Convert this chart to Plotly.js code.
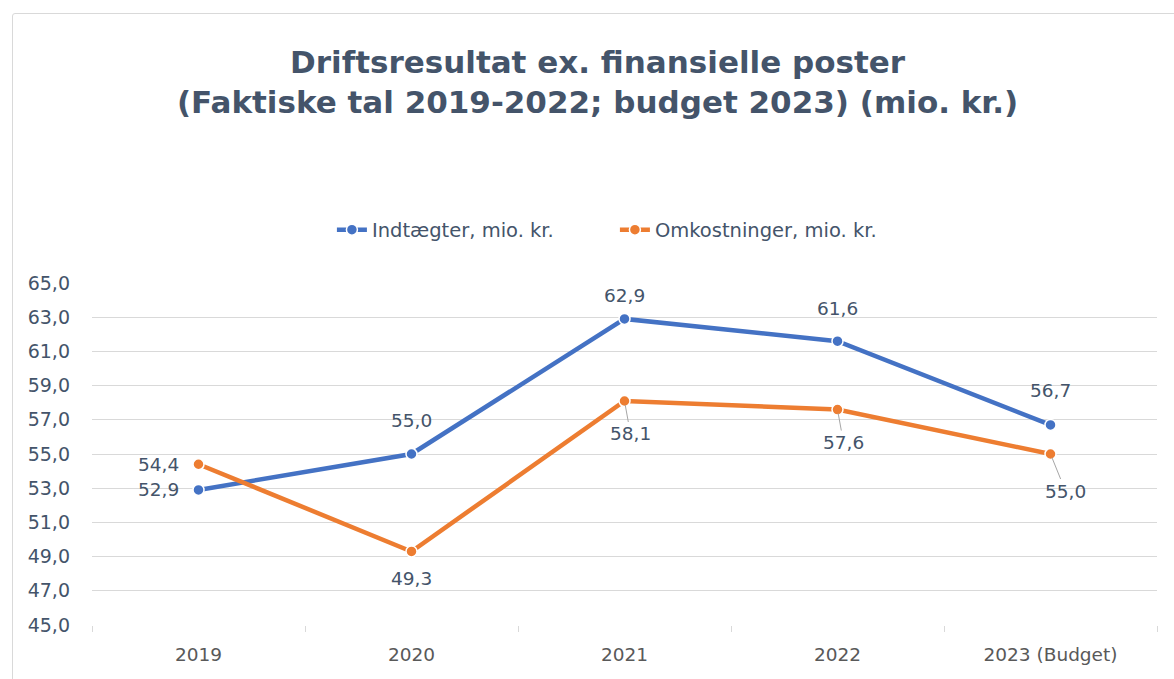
<!DOCTYPE html>
<html>
<head>
<meta charset="utf-8">
<script src="https://cdn.plot.ly/plotly-3.0.1.min.js"></script>
<style>
html,body{margin:0;padding:0;background:#fff;}
#wrap{position:relative;width:1174px;height:679px;}
#chart{width:1174px;height:679px;}
#frame{position:absolute;left:12px;top:13px;width:1180px;height:700px;border:1px solid #d9d9d9;border-radius:3px;pointer-events:none;}
</style>
</head>
<body>
<div id="wrap"><div id="chart"></div><div id="frame"></div></div>
<script>
const categories = ['2019', '2020', '2021', '2022', '2023 (Budget)'];
const indtaegter = [52.9, 55.0, 62.9, 61.6, 56.7];
const omkostninger = [54.4, 49.3, 58.1, 57.6, 55.0];
const seriesNames = ['Indtægter, mio. kr.', 'Omkostninger, mio. kr.'];

const BLUE = '#4472C4', ORANGE = '#ED7D31', TXT = '#44546A';
const FONT = '"DejaVu Sans", "Open Sans", sans-serif';

function mkTrace(y, name, color) {
  return {
    x: categories, y: y, name: name, type: 'scatter', mode: 'lines+markers',
    line: {color: color, width: 4.5},
    marker: {symbol: 'circle', size: 11, color: color, line: {color: '#ffffff', width: 1.5}},
    hoverinfo: 'skip'
  };
}

// label offsets (px) [ax, ay] per point, and leader flag
const blueOff = [[-40, 0], [0, -34], [0, -23], [0, -33], [0, -34]];
const orangeOff = [[-40, 0], [0, 27], [6, 33], [6, 33], [15, 37]];
const orangeLeader = [false, false, true, true, true];

const fmt = v => v.toFixed(1).replace('.', ',');
const annotations = [];
function addLabels(vals, offs, leaders) {
  vals.forEach((v, i) => {
    const lead = leaders && leaders[i];
    annotations.push({
      x: i, y: v, xref: 'x', yref: 'y',
      text: fmt(v), showarrow: true,
      ax: offs[i][0], ay: offs[i][1], axref: 'pixel', ayref: 'pixel',
      arrowcolor: lead ? '#a6a6a6' : 'rgba(0,0,0,0)', arrowwidth: 1, arrowhead: 0,
      standoff: 4,
      font: {family: FONT, size: 18.5, color: TXT}
    });
  });
}
addLabels(indtaegter, blueOff, null);
addLabels(omkostninger, orangeOff, orangeLeader);

const layout = {
  width: 1174, height: 679,
  paper_bgcolor: '#ffffff', plot_bgcolor: '#ffffff',
  margin: {l: 92, r: 17, t: 283, b: 54},
  font: {family: FONT, color: TXT},
  separators: ',.',
  title: {
    text: '<b>Driftsresultat ex. finansielle poster</b><br><b>(Faktiske tal 2019-2022; budget 2023) (mio. kr.)</b>',
    font: {family: FONT, size: 31, color: TXT},
    x: 0.509, xanchor: 'center', y: 1 - 73 / 679, yanchor: 'middle', yref: 'container'
  },
  showlegend: true,
  legend: {
    orientation: 'h', x: 0.491, xanchor: 'center', y: 1.155, yanchor: 'middle',
    font: {family: FONT, size: 19.5, color: TXT}, tracegroupgap: 0,
    entrywidth: 238, entrywidthmode: 'pixels',
    bgcolor: 'rgba(0,0,0,0)'
  },
  xaxis: {
    type: 'category', range: [-0.5, 4.5],
    showgrid: false, zeroline: false, showline: false,
    ticks: 'outside', tickson: 'boundaries', ticklen: 6, tickcolor: '#d9d9d9',
    ticklabelstandoff: 16,
    tickfont: {family: FONT, size: 18.5, color: '#595959'}, fixedrange: true
  },
  yaxis: {
    range: [45, 65], dtick: 2, tick0: 45, tickformat: '.1f',
    showgrid: true, gridcolor: '#d9d9d9', gridwidth: 1, zeroline: false, showline: false,
    ticks: '', ticklabelstandoff: 21,
    tickfont: {family: FONT, size: 19, color: TXT}, fixedrange: true
  },
  annotations: annotations
};

Plotly.newPlot('chart', [mkTrace(indtaegter, seriesNames[0], BLUE), mkTrace(omkostninger, seriesNames[1], ORANGE)], layout, {displayModeBar: false, staticPlot: true});
</script>
</body>
</html>
